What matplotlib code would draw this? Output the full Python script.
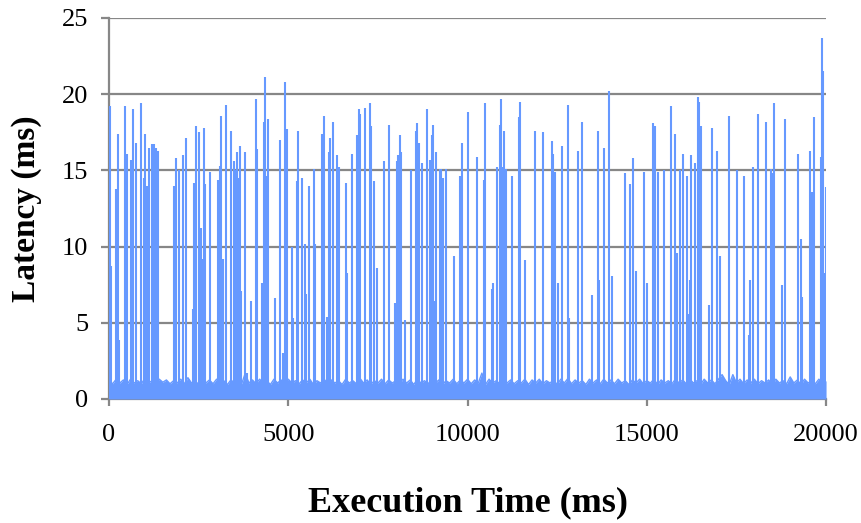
import numpy as np
import matplotlib
matplotlib.use("Agg")
import matplotlib.pyplot as plt

# latency spikes: (execution time in ms, latency in ms)
spike_times = [
    20, 65, 195, 242, 279, 437, 493, 623, 669, 753, 883, 967, 1013, 1051, 1106,
    1190, 1246, 1320, 1367, 1804, 1859, 1952, 2073, 2157, 2333, 2380, 2426, 2519,
    2557, 2603, 2650, 2687, 2817, 3040, 3087, 3133, 3170, 3254,
    3393, 3477, 3514, 3579, 3616, 3654, 3691, 3793, 3849, 3970, 4091, 4128, 4258,
    4314, 4351, 4397, 4444, 4620, 4760, 4844, 4899, 4964, 5113, 5141, 5234, 5281,
    5373, 5457, 5504, 5587, 5717, 5755, 5941, 5987, 6080, 6127, 6173, 6257, 6368,
    6424, 6601,
    6647, 6777, 6907, 6963, 7000, 7131, 7270, 7307, 7391, 7484, 7660, 7800, 7977,
    8023, 8070, 8107, 8144, 8246, 8423, 8553, 8599, 8637, 8730, 8860, 8953, 8999,
    9036, 9083, 9129, 9222, 9269, 9306, 9399, 9613, 9789, 9836,
    10003, 10273, 10449, 10496, 10673, 10719, 10812, 10896, 10933, 10979, 11017,
    11063, 11240, 11426, 11472, 11602, 11872, 12095, 12346, 12392, 12439, 12532,
    12625, 12792, 12839, 13071, 13201,
    13462, 13629, 13675, 13815, 13945, 14038, 14382, 14521, 14614, 14688, 14921,
    15005, 15181, 15228, 15302, 15488, 15665, 15795, 15832, 15935, 16018, 16111,
    16158, 16195, 16241, 16334, 16418, 16455, 16511,
    16725, 16809, 16948, 17032, 17301, 17524, 17701, 17840, 17877, 17970, 18091,
    18314, 18454, 18500, 18547, 18761, 18854, 19207, 19291, 19337, 19560, 19597,
    19653, 19867, 19886, 19913, 19941, 19990,
]
spike_latency = [
    19.2, 8.7, 13.8, 17.4, 3.9, 19.2, 16.1, 15.7, 19.0, 16.8, 19.4, 14.5, 17.4, 14.0, 16.5,
    16.7, 16.7, 16.5, 16.3, 14.0, 15.8, 15.0, 16.0, 17.1, 5.9, 14.2, 17.9, 17.5,
    11.2, 9.2, 17.8, 14.1, 14.9, 14.4, 15.3, 18.6, 9.2, 19.3,
    17.6, 15.6, 15.0, 16.2, 14.5, 16.6, 7.1, 16.2, 1.7, 6.4, 19.7, 16.4, 7.6,
    18.2, 21.1, 14.6, 18.4, 6.6, 17.0, 3.0, 20.8, 17.7, 10.0, 5.3, 14.3, 17.6,
    14.5, 10.2, 6.9, 14.0, 15.1, 10.2, 17.4, 18.6, 5.4, 16.2, 17.1, 18.2, 16.0,
    15.2, 14.2,
    8.3, 16.1, 17.3, 19.0, 18.7, 19.1, 19.4, 17.9, 14.3, 8.6, 15.6, 18.0, 6.3,
    15.6, 16.0, 17.3, 16.2, 5.2, 15.0, 17.6, 18.1, 16.8, 15.5, 19.0, 15.7, 17.3,
    18.0, 6.4, 16.2, 15.1, 15.1, 14.5, 15.1, 9.4, 14.6, 16.8,
    18.8, 15.9, 14.4, 19.4, 7.2, 7.6, 15.2, 18.0, 19.7, 15.2, 17.6,
    15.1, 14.6, 18.5, 19.5, 9.1, 17.6, 17.5, 16.9, 16.1, 14.9, 7.6,
    16.6, 19.3, 5.3, 16.3, 18.2,
    6.8, 17.6, 7.8, 16.5, 20.2, 8.1, 14.8, 14.1, 15.8, 8.4, 14.9,
    7.6, 18.1, 17.9, 14.9, 15.0, 19.2, 17.4, 9.6, 15.0, 16.1, 14.6,
    5.6, 7.8, 16.0, 15.5, 19.8, 19.5, 17.9,
    6.2, 17.8, 16.3, 9.4, 18.6, 15.0, 14.6, 4.2, 7.8, 15.2, 18.7,
    18.2, 15.1, 14.8, 19.4, 7.5, 18.4, 16.1, 10.5, 6.7, 16.3, 13.6,
    18.5, 15.9, 23.7, 21.5, 8.3, 13.9,
]

# background latency band, one reading every 100 ms from 0 to 20000 ms
noise_latency = [
    1.2, 1.0, 1.3, 1.05, 1.25, 0.95, 1.3, 1.05, 1.2, 1.0, 1.35, 1.05, 1.2, 0.95, 1.3, 1.1, 1.25, 1.0, 1.2, 1.05,
    1.3, 1.0, 1.4, 1.05, 1.2, 0.95, 1.3, 1.05, 1.25, 1.0, 1.3, 1.05, 1.2, 0.95, 1.25, 1.05, 1.3, 1.0, 1.7, 1.05,
    1.25, 1.0, 1.3, 1.05, 1.2, 0.95, 1.3, 1.05, 1.25, 1.0, 1.3, 1.05, 1.2, 1.0, 1.25, 1.05, 1.3, 0.95, 1.2, 1.05,
    1.3, 1.0, 1.25, 1.05, 1.2, 0.95, 1.3, 1.05, 1.2, 1.0, 1.35, 1.05, 1.25, 0.95, 1.2, 1.05, 1.3, 1.0, 1.25, 1.05,
    1.2, 1.0, 1.3, 1.05, 1.25, 0.95, 1.3, 1.05, 1.2, 1.0, 1.3, 1.05, 1.25, 0.95, 1.2, 1.05, 1.3, 1.0, 1.25, 1.05,
    1.3, 1.0, 1.25, 1.05, 1.7, 0.95, 1.3, 1.05, 1.2, 1.0, 1.3, 1.05, 1.25, 1.0, 1.2, 1.05, 1.3, 0.95, 1.25, 1.05,
    1.3, 1.0, 1.2, 1.05, 1.25, 0.95, 1.3, 1.05, 1.35, 1.0, 1.25, 1.05, 1.2, 0.95, 1.3, 1.05, 1.25, 1.0, 1.3, 1.05,
    1.25, 1.0, 1.3, 1.05, 1.2, 0.95, 1.25, 1.05, 1.3, 1.0, 1.2, 1.05, 1.3, 0.95, 1.25, 1.05, 1.2, 1.0, 1.3, 1.05,
    1.25, 1.0, 1.3, 1.05, 1.2, 0.95, 1.3, 1.05, 1.25, 1.0, 1.3, 1.6, 1.2, 0.95, 1.6, 1.05, 1.3, 1.0, 1.25, 1.05,
    1.3, 1.0, 1.2, 1.05, 1.25, 0.95, 1.3, 1.05, 1.2, 1.0, 1.45, 1.05, 1.25, 0.95, 1.3, 1.05, 1.2, 1.0, 1.3, 1.05,
    1.2,
]
noise_times = np.arange(len(noise_latency)) * 100

x_ticks = [0, 5000, 10000, 15000, 20000]
y_ticks = [0, 5, 10, 15, 20, 25]

BLUE = "#6699ff"
GRID = "#878787"


def draw_chart():
    plt.rcParams["font.family"] = ["Liberation Serif", "DejaVu Serif"]
    fig = plt.figure(figsize=(8.62, 5.23), dpi=100)
    ax = fig.add_axes([0.1265, 0.2371, 0.8318, 0.7285])

    ax.fill_between(noise_times, 0, noise_latency, color=BLUE, lw=0, zorder=3)
    ax.plot(noise_times, noise_latency, color=BLUE, lw=1.0, zorder=3)
    ax.vlines(spike_times, 0, spike_latency, color=BLUE, lw=1.5, zorder=3)

    ax.set_xlim(0, 20000)
    ax.set_ylim(0, 25)
    ax.set_xticks(x_ticks)
    ax.set_yticks(y_ticks)
    ax.yaxis.grid(True, color=GRID, lw=1.6, zorder=1)
    ax.set_axisbelow(True)

    for side in ["top", "right"]:
        ax.spines[side].set_visible(False)
    for side in ["left", "bottom"]:
        ax.spines[side].set_color(GRID)
        ax.spines[side].set_linewidth(1.6)

    ax.tick_params(axis="y", length=6, width=1.6, color=GRID, pad=9, labelsize=19)
    ax.tick_params(axis="x", length=5, width=1.6, color=GRID, pad=13, labelsize=19)

    ax.set_ylabel("Latency (ms)", fontsize=24, fontweight="bold", labelpad=14)
    ax.set_xlabel("Execution Time (ms)", fontsize=26, fontweight="bold", labelpad=29)

    fig.savefig("out.png", dpi=100)


if __name__ == "__main__":
    draw_chart()
